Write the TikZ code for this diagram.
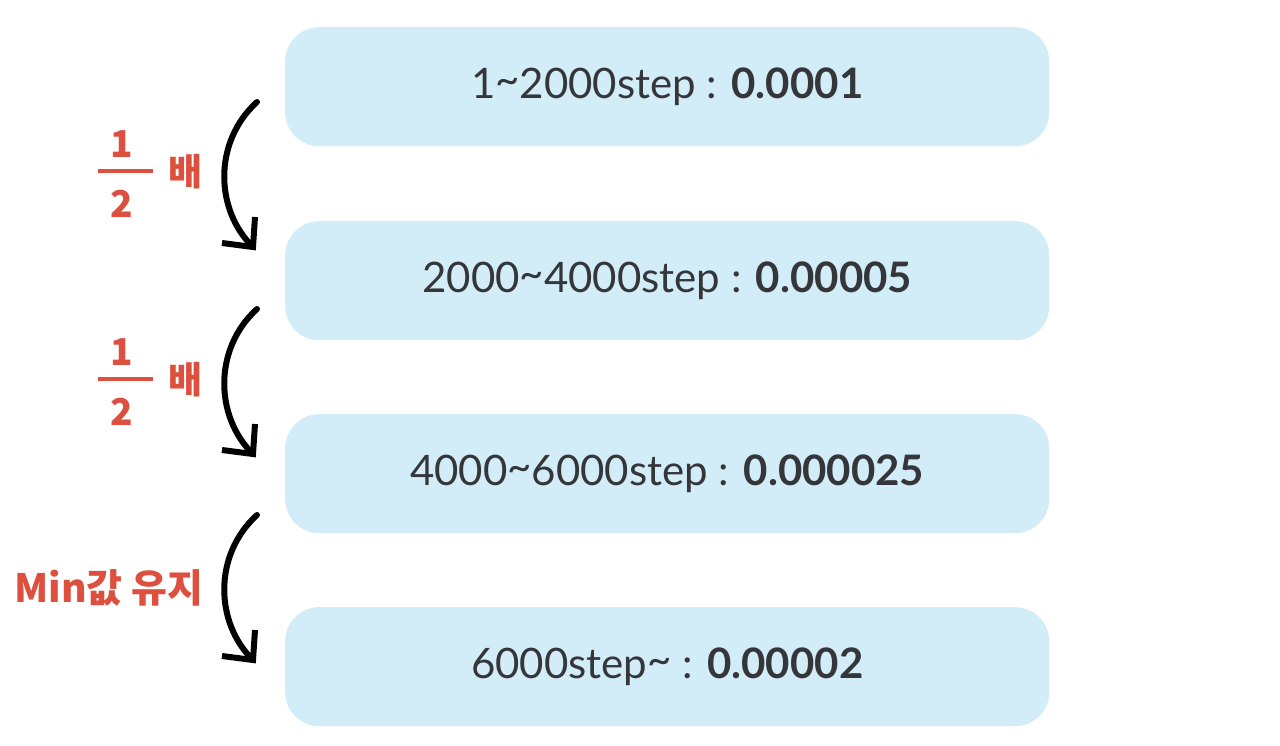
\documentclass[tikz,border=0pt]{standalone}
\usepackage{fontspec}
\setmainfont{Lato}
\newfontfamily\krfont{Noto Sans CJK KR}
\definecolor{boxfill}{HTML}{D2ECF8}
\definecolor{txt}{HTML}{35363A}
\definecolor{redlab}{HTML}{DD4F3E}
\begin{document}
\begin{tikzpicture}[x=1pt,y=-1pt,
  stagebox/.style={fill=boxfill,draw=none,rounded corners=34pt,minimum width=764pt,minimum height=119pt,anchor=north west,inner sep=0pt,text=txt,font=\fontsize{42}{48}\selectfont},
  redtxt/.style={text=redlab,font=\krfont\bfseries\fontsize{37}{40}\selectfont,inner sep=0pt},
  curvearrow/.style={draw=black,line width=6pt,line cap=round},
  headline/.style={draw=black,line width=6pt,line join=miter,line cap=butt}]
\useasboundingbox (0,0) rectangle (1280,745);
\fill[white] (0,0) rectangle (1280,745);
% boxes
\node[stagebox] (b1) at (285,27) {1\raisebox{0.1em}{\char`~}2000step : \textbf{0.0001}};
\node[stagebox] (b2) at (285,221) {2000\raisebox{0.1em}{\char`~}4000step : \textbf{0.00005}};
\node[stagebox] (b3) at (285,414) {4000\raisebox{0.1em}{\char`~}6000step : \textbf{0.000025}};
\node[stagebox] (b4) at (285,607) {6000step\raisebox{0.1em}{\char`~} : \textbf{0.00002}};
% arrows
\foreach \i/\dy in {1/0,2/207,3/413}{
  \coordinate (s\i) at (257,102+\dy);
  \coordinate (t\i) at (253,247+\dy);
  \coordinate (c\i a) at (213,142+\dy);
  \coordinate (c\i b) at (215,210+\dy);
  \coordinate (h\i a) at (222,243+\dy);
  \coordinate (h\i b) at (255,217+\dy);
  \draw[curvearrow] (s\i) .. controls (c\i a) and (c\i b) .. (t\i);
  \draw[headline] (h\i a) -- (t\i) -- (h\i b);
}
% labels
\foreach \i/\dy in {1/0,2/208}{
  \node[redtxt] (n\i) at (122,144+\dy) {1};
  \node[redtxt] (d\i) at (122,204+\dy) {2};
  \coordinate (bl\i) at (98,171+\dy);
  \coordinate (br\i) at (153,171+\dy);
  \draw[redlab,line width=4pt] (bl\i) -- (br\i);
  \node[redtxt] (bae\i) at (186,172+\dy) {배};
}
\node[redtxt,font=\krfont\bfseries\fontsize{39}{42}\selectfont] (minv) at (109,588) {Min값 유지};
\end{tikzpicture}
\end{document}
